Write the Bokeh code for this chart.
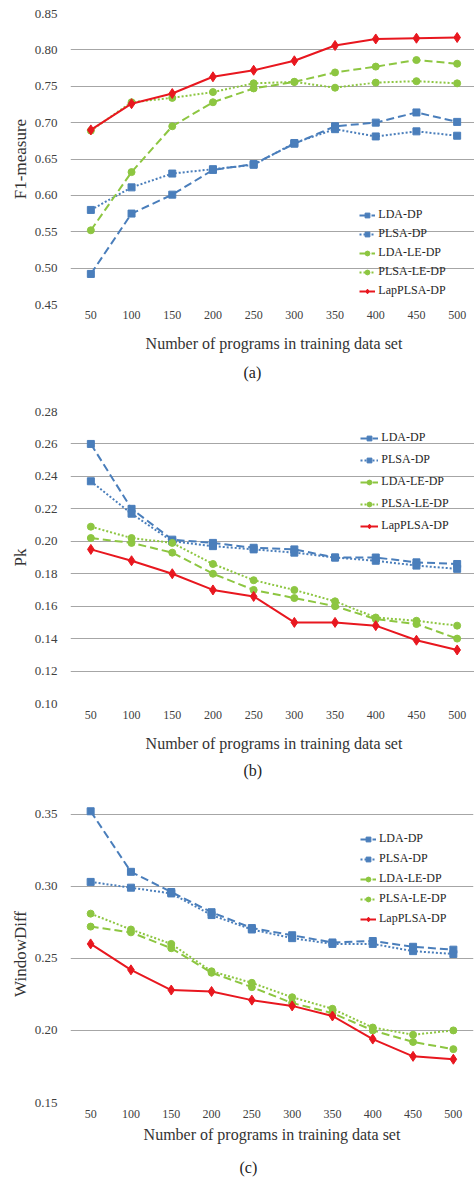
from bokeh.plotting import figure
from bokeh.layouts import column
from bokeh.models import (FactorRange, Range1d, FixedTicker, PrintfTickFormatter,
                          Legend, LegendItem, Title)
from bokeh.embed import file_html
from bokeh.resources import INLINE

# ---------------- data ----------------
categories = ["50", "100", "150", "200", "250", "300", "350", "400", "450", "500"]
series_names = ["LDA-DP", "PLSA-DP", "LDA-LE-DP", "PLSA-LE-DP", "LapPLSA-DP"]

# (a) F1-measure
f1_lda_dp = [0.492, 0.575, 0.601, 0.635, 0.643, 0.671, 0.695, 0.700, 0.714, 0.701]
f1_plsa_dp = [0.580, 0.611, 0.630, 0.636, 0.642, 0.672, 0.691, 0.681, 0.688, 0.682]
f1_lda_le_dp = [0.552, 0.632, 0.695, 0.728, 0.747, 0.756, 0.769, 0.777, 0.786, 0.781]
f1_plsa_le_dp = [0.689, 0.728, 0.734, 0.742, 0.754, 0.756, 0.748, 0.755, 0.757, 0.754]
f1_lapplsa_dp = [0.690, 0.726, 0.740, 0.763, 0.772, 0.785, 0.806, 0.815, 0.816, 0.817]
f1_ticks = [0.45, 0.50, 0.55, 0.60, 0.65, 0.70, 0.75, 0.80, 0.85]

# (b) Pk
pk_lda_dp = [0.260, 0.220, 0.201, 0.199, 0.196, 0.195, 0.190, 0.190, 0.187, 0.186]
pk_plsa_dp = [0.237, 0.217, 0.200, 0.197, 0.195, 0.193, 0.190, 0.188, 0.185, 0.183]
pk_lda_le_dp = [0.202, 0.199, 0.193, 0.180, 0.170, 0.165, 0.160, 0.152, 0.149, 0.140]
pk_plsa_le_dp = [0.209, 0.202, 0.199, 0.186, 0.176, 0.170, 0.163, 0.153, 0.151, 0.148]
pk_lapplsa_dp = [0.195, 0.188, 0.180, 0.170, 0.166, 0.150, 0.150, 0.148, 0.139, 0.133]
pk_ticks = [0.10, 0.12, 0.14, 0.16, 0.18, 0.20, 0.22, 0.24, 0.26, 0.28]

# (c) WindowDiff
wd_lda_dp = [0.352, 0.310, 0.296, 0.282, 0.271, 0.266, 0.261, 0.262, 0.258, 0.256]
wd_plsa_dp = [0.303, 0.299, 0.295, 0.280, 0.270, 0.264, 0.260, 0.260, 0.255, 0.253]
wd_lda_le_dp = [0.272, 0.268, 0.257, 0.240, 0.230, 0.219, 0.212, 0.200, 0.192, 0.187]
wd_plsa_le_dp = [0.281, 0.270, 0.260, 0.241, 0.233, 0.223, 0.215, 0.202, 0.197, 0.200]
wd_lapplsa_dp = [0.260, 0.242, 0.228, 0.227, 0.221, 0.217, 0.210, 0.194, 0.182, 0.180]
wd_ticks = [0.15, 0.20, 0.25, 0.30, 0.35]

# ---------------- styles ----------------
BLUE = "#4A7EBB"
GREEN = "#8DC641"
RED = "#E8171F"
FONT = "Liberation Serif"
styles = [
    dict(color=BLUE, dash="8 4", marker="square", size=7, width=2),
    dict(color=BLUE, dash="2 2", marker="square", size=7, width=2),
    dict(color=GREEN, dash="8 4", marker="circle", size=7, width=2),
    dict(color=GREEN, dash="2 2", marker="circle", size=7, width=2),
    dict(color=RED, dash="solid", marker="diamond", size=10, width=2),
]


def make_panel(series, ticks, y_end, ylabel, caption, frame_h, border_left, border_top,
               border_bottom, tick_standoff, label_standoff, cap_standoff,
               cap_offset, legend_loc, legend_spacing, glyph_w):
    p = figure(x_range=FactorRange(*categories, range_padding=0),
               y_range=Range1d(ticks[0], y_end),
               width=474, height=border_top + frame_h + border_bottom,
               frame_width=473 - border_left, frame_height=frame_h,
               output_backend="svg", toolbar_location=None,
               min_border_left=border_left, min_border_right=1,
               min_border_top=border_top, min_border_bottom=border_bottom)
    p.outline_line_color = None
    p.background_fill_color = "white"
    p.border_fill_color = "white"
    p.xgrid.grid_line_color = None
    p.ygrid.grid_line_color = "#A6A6A6"
    p.ygrid.grid_line_width = 1
    p.ygrid.ticker = FixedTicker(ticks=ticks)
    p.yaxis.ticker = FixedTicker(ticks=ticks)
    p.yaxis.formatter = PrintfTickFormatter(format="%.2f")
    for ax in (p.xaxis[0], p.yaxis[0]):
        ax.axis_line_color = None
        ax.major_tick_line_color = None
        ax.minor_tick_line_color = None
        ax.major_tick_out = 0
        ax.major_tick_in = 0
        ax.major_label_text_font = FONT
        ax.major_label_text_color = "#404040"
        ax.axis_label_text_font = FONT
        ax.axis_label_text_font_style = "normal"
        ax.axis_label_text_color = "#333333"
    p.xaxis.major_label_text_font_size = "12px"
    p.yaxis.major_label_text_font_size = "13px"
    p.xaxis.axis_label = "Number of programs in training data set"
    p.xaxis.axis_label_text_font_size = "16px"
    p.xaxis.major_label_standoff = tick_standoff
    p.xaxis.axis_label_standoff = label_standoff
    p.yaxis.axis_label = ylabel
    p.yaxis.axis_label_text_font_size = "17px"
    p.yaxis.major_label_standoff = 13
    p.yaxis.axis_label_standoff = 2

    items = []
    for name, vals, st in zip(series_names, series, styles):
        lr = p.line(categories, vals, line_color=st["color"], line_width=st["width"],
                    line_dash=st["dash"])
        sr = p.scatter(categories, vals, marker=st["marker"], size=st["size"],
                       fill_color=st["color"], line_color=st["color"])
        items.append(LegendItem(label=name, renderers=[lr, sr]))
    legend = Legend(items=items, location=legend_loc, padding=0, margin=0,
                    spacing=legend_spacing, glyph_width=glyph_w, glyph_height=12,
                    label_height=12, label_standoff=3,
                    label_text_font=FONT, label_text_font_size="12px",
                    label_text_color="#262626", border_line_color=None,
                    background_fill_alpha=0)
    p.add_layout(legend)
    cap = Title(text=caption, align="left", offset=cap_offset, standoff=cap_standoff,
                text_font=FONT, text_font_size="16px", text_font_style="normal",
                text_color="#222222")
    p.add_layout(cap, "below")
    return p


pa = make_panel([f1_lda_dp, f1_plsa_dp, f1_lda_le_dp, f1_plsa_le_dp, f1_lapplsa_dp],
                f1_ticks, 0.85, "F1-measure", "(a)", frame_h=291, border_left=66,
                border_top=13, border_bottom=88, tick_standoff=6, label_standoff=13,
                cap_standoff=14, cap_offset=173, legend_loc=(295, 6),
                legend_spacing=4, glyph_w=16)
pb = make_panel([pk_lda_dp, pk_plsa_dp, pk_lda_le_dp, pk_plsa_le_dp, pk_lapplsa_dp],
                pk_ticks, 0.28, "Pk", "(b)", frame_h=292, border_left=66,
                border_top=19, border_bottom=87, tick_standoff=7, label_standoff=13,
                cap_standoff=10, cap_offset=173, legend_loc=(296, 170),
                legend_spacing=7, glyph_w=18)
pc = make_panel([wd_lda_dp, wd_plsa_dp, wd_lda_le_dp, wd_plsa_le_dp, wd_lapplsa_dp],
                wd_ticks, 0.356, "WindowDiff", "(c)", frame_h=297, border_left=70,
                border_top=15, border_bottom=78, tick_standoff=7, label_standoff=5,
                cap_standoff=23, cap_offset=169, legend_loc=(290, 176),
                legend_spacing=5, glyph_w=16)

layout = column(pa, pb, pc, spacing=0)
open("out.html", "w").write(file_html(layout, INLINE))
